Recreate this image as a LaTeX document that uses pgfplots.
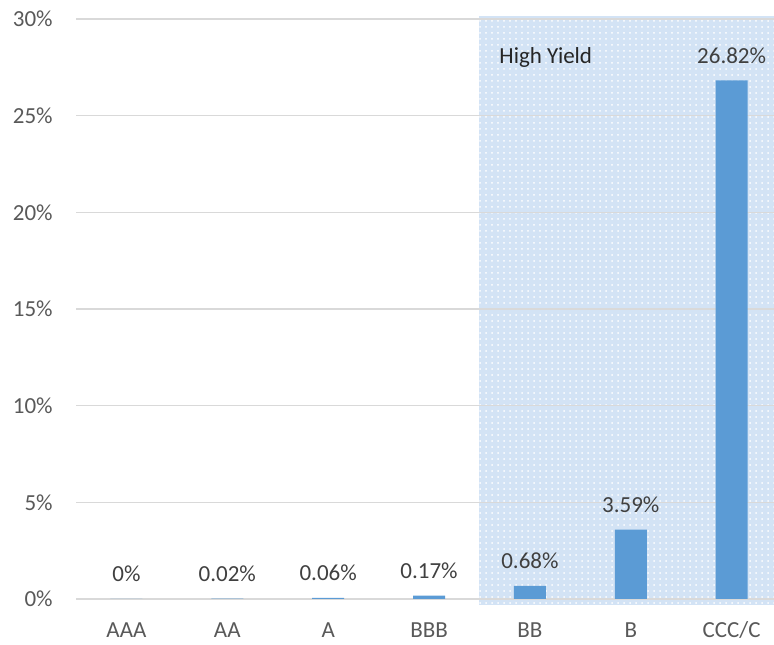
\documentclass[border=0pt]{standalone}
\usepackage{pgfplots}
\pgfplotsset{compat=1.18}
\usepackage{fontspec}
\setmainfont{Carlito}
\usetikzlibrary{patterns}

\definecolor{barblue}{HTML}{5B9BD5}
\definecolor{gridgray}{HTML}{D9D9D9}
\definecolor{ticktext}{HTML}{595959}
\definecolor{labeltext}{HTML}{404040}
\definecolor{hytext}{HTML}{262626}
\definecolor{hyshade}{HTML}{D3E3F5}

\newcommand{\chartfont}{\fontsize{11.5}{13}\selectfont}

\begin{document}
\begin{tikzpicture}
\begin{axis}[
    name=ax,
    set layers,
    scale only axis,
    width=349pt, height=290pt,
    xmin=-0.5, xmax=6.42,
    ymin=0, ymax=30,
    clip=false,
    axis line style={draw=none},
    major tick length=0pt,
    ymajorgrids=true,
    grid style={gridgray, line width=0.75pt},
    ytick={0,5,...,30},
    yticklabels={0\%,5\%,10\%,15\%,20\%,25\%,30\%},
    xtick={0,...,6},
    xticklabels={AAA,AA,A,BBB,BB,B,CCC/C},
    ticklabel style={font=\chartfont, text=ticktext},
    yticklabel style={anchor=east, inner sep=0pt, xshift=-11.5pt},
    xticklabel style={anchor=base, inner sep=0pt, yshift=-19.5pt},
    ybar, bar width=16pt,
    nodes near coords,
    point meta=explicit symbolic,
    nodes near coords style={anchor=base, inner sep=0pt, yshift=8.5pt,
        font=\chartfont, text=labeltext},
]
% high yield band
\begin{pgfonlayer}{axis background}
\fill[hyshade] (axis cs:3.5,-0.3) rectangle (axis cs:6.6,30.16);
\fill[pattern=dots, pattern color=white] (axis cs:3.5,-0.3) rectangle (axis cs:6.6,30.16);
\end{pgfonlayer}

\addplot[fill=barblue, draw=none] coordinates {
    (0,0) [0\%]
    (1,0.02) [0.02\%]
    (2,0.06) [0.06\%]
    (3,0.17) [0.17\%]
    (4,0.68) [0.68\%]
    (5,3.59) [3.59\%]
    (6,26.82) [26.82\%]
};

\node[anchor=base west, inner sep=0pt, font=\chartfont, text=hytext]
    at (axis cs:3.694,27.68) {High Yield};
\end{axis}
\pgfresetboundingbox
\path[use as bounding box] ([xshift=-38pt,yshift=-23pt]ax.south west)
    rectangle ([yshift=9.5pt]ax.north east);
\end{tikzpicture}
\end{document}
